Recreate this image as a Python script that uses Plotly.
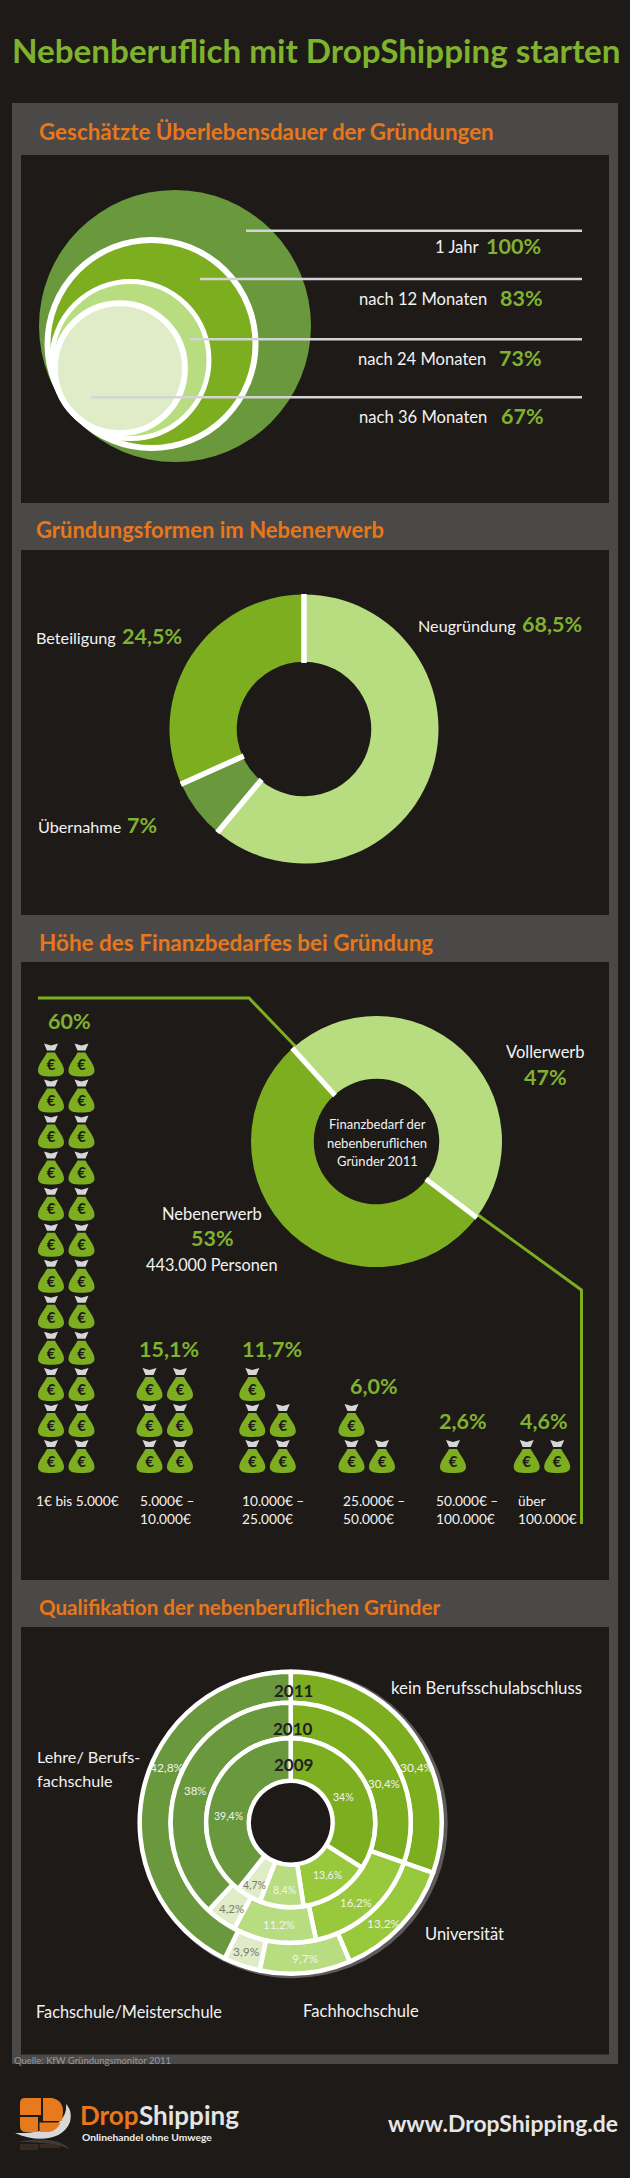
import math
import plotly.graph_objects as go

W, H = 630, 2178
NARROW = "Lato"

BG = "#1e1a18"
PANEL = "#4b4848"
GREEN = "#7cae20"
GREEN_TXT = "#7fb22e"
DARK_GREEN = "#6a983c"
MID_GREEN = "#98c83c"
LIGHT_GREEN = "#b8dd80"
PALE_GREEN = "#e0ecc8"
ORANGE = "#e8771a"
WHITE = "#f2f2f2"

# Geschaetzte Ueberlebensdauer
survival_names = ["1 Jahr", "nach 12 Monaten", "nach 24 Monaten", "nach 36 Monaten"]
survival_values = [100, 83, 73, 67]
# drawn diameters as read from the picture, not proportional to the values
survival_diam = [272, 214, 162, 136]

# Gruendungsformen: the drawn slices differ from the printed numbers
form_names = ["Neugründung", "Übernahme", "Beteiligung"]
form_printed = ["68,5%", "7%", "24,5%"]
form_drawn = [61.1, 7.2, 31.7]

# Finanzbedarf
need_names = ["Vollerwerb", "Nebenerwerb"]
need_values = [47, 53]
need_ranges = [
    ["1€ bis 5.000€"],
    ["5.000€ –", "10.000€"],
    ["10.000€ –", "25.000€"],
    ["25.000€ –", "50.000€"],
    ["50.000€ –", "100.000€"],
    ["über", "100.000€"],
]
need_printed = ["60%", "15,1%", "11,7%", "6,0%", "2,6%", "4,6%"]
need_bags = [24, 6, 5, 3, 1, 2]

# Qualifikation
quali_names = ["kein Berufsschulabschluss", "Universität", "Fachhochschule",
               "Fachschule/Meisterschule", "Lehre/ Berufsfachschule"]
quali_2009 = [34, 13.6, 8.4, 4.7, 39.4]
quali_2010 = [30.4, 16.2, 11.2, 4.2, 38]
quali_2011 = [30.4, 13.2, 9.7, 3.9, 42.8]

fig = go.Figure()
shapes = []
notes = []


def txt(x, base, text, size, color=WHITE, anchor="left", bold=False, family=NARROW):
    # base is the text baseline in page pixels
    notes.append(dict(x=x, y=base + 0.21 * size + 1, xref="x", yref="y", text=text,
                      showarrow=False, xanchor=anchor, yanchor="bottom", borderpad=0, borderwidth=0,
                      font=dict(family=family, size=size, color=color,
                                weight=700 if bold else 400)))


def rect(x0, y0, x1, y1, color):
    shapes.append(dict(type="rect", x0=x0, y0=y0, x1=x1, y1=y1, xref="x", yref="y",
                       fillcolor=color, line_width=0, layer="below"))


def path(d, color):
    shapes.append(dict(type="path", path=d, xref="x", yref="y", fillcolor=color,
                       line_width=0, layer="below"))


def pie(values, colors, cx, cy, r, hole, rotation=0, line=0):
    fig.add_trace(go.Pie(
        values=values, sort=False, direction="clockwise", rotation=rotation, hole=hole,
        domain=dict(x=[(cx - r) / W, (cx + r) / W], y=[1 - (cy + r) / H, 1 - (cy - r) / H]),
        marker=dict(colors=colors, line=dict(color="white", width=line)),
        textinfo="none", showlegend=False, hoverinfo="percent"))


def dividers(values, cx, cy, r0, r1, rotation=0, width=5.5):
    # white spokes at the slice boundaries, outer rim stays clean
    angle = rotation
    for v in values:
        a = math.radians(angle)
        shapes.append(dict(type="line", xref="x", yref="y",
                           x0=cx + r0 * math.sin(a), y0=cy - r0 * math.cos(a),
                           x1=cx + r1 * math.sin(a), y1=cy - r1 * math.cos(a),
                           line=dict(color="white", width=width), layer="above"))
        angle += v / sum(values) * 360


# page furniture
rect(12, 103, 618, 2064, PANEL)
rect(21, 155, 609, 503, BG)
rect(21, 550, 609, 915, BG)
rect(21, 962, 609, 1580, BG)
rect(21, 1627, 609, 2054.5, BG)

txt(12, 62, "Nebenberuflich mit DropShipping starten", 33.2, GREEN_TXT, bold=True)
txt(38.5, 139, "Geschätzte Überlebensdauer der Gründungen", 22.4, ORANGE, bold=True)
txt(36, 537, "Gründungsformen im Nebenerwerb", 22, ORANGE, bold=True)
txt(38.5, 950, "Höhe des Finanzbedarfes bei Gründung", 22.5, ORANGE, bold=True)
txt(38.5, 1614, "Qualifikation der nebenberuflichen Gründer", 20.6, ORANGE, bold=True)
txt(14, 2063, "Quelle: KfW Gründungsmonitor 2011", 9.5, "#9a9a9a")

# 1. nested circles, all touching at the lower left
r_max = survival_diam[0] / 2
fill = [DARK_GREEN, GREEN, LIGHT_GREEN, PALE_GREEN]
ring = [0, 6, 5, 6]
for d, c, lw in zip(survival_diam, fill, ring):
    r = d / 2
    fig.add_trace(go.Scatter(
        x=[175 - 0.81 * (r_max - r)], y=[326 + 0.62 * (r_max - r)], mode="markers",
        marker=dict(size=d - lw, color=c, line=dict(color="white", width=lw)),
        showlegend=False, hoverinfo="skip"))

line_y = [230.7, 279, 339.3, 397.3]
line_x0 = [246, 200, 190, 91]
base_y = [253, 305, 365, 423]
pct_x = [541, 543, 542, 544]
name_x = [479, 487, 486, 487]
for i, name in enumerate(survival_names):
    fig.add_trace(go.Scatter(x=[line_x0[i], 582], y=[line_y[i]] * 2, mode="lines",
                             line=dict(color="#d4d4d4", width=2.5), showlegend=False, hoverinfo="skip"))
    txt(name_x[i], base_y[i], name, 16.6, WHITE, "right")
    txt(pct_x[i], base_y[i], f"{survival_values[i]}%", 21.5, GREEN_TXT, "right", True)

# 2. Gruendungsformen
pie(form_drawn, [LIGHT_GREEN, DARK_GREEN, GREEN], 304, 729, 134.5, 0.5)
dividers(form_drawn, 304, 729, 66, 135)
txt(516, 631, form_names[0], 16.2, anchor="right")
txt(521.5, 631, form_printed[0], 21.5, GREEN_TXT, bold=True)
txt(116, 643, form_names[2], 16.2, anchor="right")
txt(122, 643, form_printed[2], 21.5, GREEN_TXT, bold=True)
txt(120.5, 832, form_names[1], 16.2, anchor="right")
txt(127, 832, form_printed[1], 21.5, GREEN_TXT, bold=True)

# 3. Finanzbedarf, connector lines first so the donut sits on top
conn_x = [38, 249, 296]
conn_y = [998, 998, 1047]
conn2_x = [478, 581.5, 581.5]
conn2_y = [1215, 1290, 1524]
for xs, ys in ((conn_x, conn_y), (conn2_x, conn2_y)):
    fig.add_trace(go.Scatter(x=xs, y=ys, mode="lines", line=dict(color=GREEN, width=3),
                             showlegend=False, hoverinfo="skip"))
pie(need_values, [LIGHT_GREEN, GREEN], 376.5, 1141.6, 125.5, 0.5, rotation=318)
dividers(need_values, 376.5, 1141.6, 62, 126, rotation=318, width=5)
txt(377, 1128, "Finanzbedarf der", 13, anchor="center")
txt(377, 1147, "nebenberuflichen", 13, anchor="center")
txt(377, 1165, "Gründer 2011", 13, anchor="center")
txt(545, 1058, need_names[0], 16.5, anchor="center")
txt(545, 1084, f"{need_values[0]}%", 21.5, GREEN_TXT, "center", True)
txt(212, 1220, need_names[1], 16.5, anchor="center")
txt(212, 1245, f"{need_values[1]}%", 21.5, GREEN_TXT, "center", True)
txt(212, 1269.5, "443.000 Personen", 16.3, anchor="center")

group_x = [51, 149.5, 252.3, 351.5, 453, 526.7]
pct_left = [48, 138.6, 242, 349.5, 438.7, 520]
pct_base = [1028.4, 1356, 1356, 1393.5, 1428, 1428]
range_left = [36, 140, 242, 342.7, 436, 518]
bag_x, bag_y = [], []
for i, n in enumerate(need_bags):
    for k in range(n):
        cx = group_x[i] + 30.5 * (k % 2)
        cy = 1461 - 36.05 * (k // 2)
        bag_x.append(cx)
        bag_y.append(cy)
        path(f"M{cx-4},{cy-12} C{cx-7},{cy-6} {cx-13},{cy} {cx-13},{cy+6} "
             f"C{cx-13},{cy+11} {cx-8},{cy+12} {cx},{cy+12} "
             f"C{cx+8},{cy+12} {cx+13},{cy+11} {cx+13},{cy+6} "
             f"C{cx+13},{cy} {cx+7},{cy-6} {cx+4},{cy-12} Z", GREEN)
        path(f"M{cx-7},{cy-21} L{cx},{cy-19} L{cx+7},{cy-21} L{cx+4},{cy-14} L{cx-4},{cy-14} Z",
             "#d6d6d6")
    txt(pct_left[i], pct_base[i], need_printed[i], 21.5, GREEN_TXT, bold=True)
    for j, part in enumerate(need_ranges[i]):
        txt(range_left[i], 1505 + 18.6 * j, part, 13.7)
fig.add_trace(go.Scatter(x=bag_x, y=[v + 2 for v in bag_y], mode="text", text=["€"] * len(bag_x),
                         textposition="middle center", showlegend=False, hoverinfo="skip",
                         textfont=dict(family=NARROW, size=15, color=BG, weight=700)))

# 4. Qualifikation, three rings around one centre
QX, QY = 290.7, 1822.7
ring_colors = [GREEN, MID_GREEN, LIGHT_GREEN, PALE_GREEN, DARK_GREEN]
# thin grey shadow crescent on the right side
fig.add_trace(go.Scatter(x=[QX + 2.5], y=[QY + 1], mode="markers",
                         marker=dict(size=304, color="rgba(0,0,0,0)", line=dict(color="#5d5b5a", width=5)),
                         showlegend=False, hoverinfo="skip"))
pie(quali_2011, ring_colors, QX, QY, 151, 120 / 151, line=4.5)
pie(quali_2010, ring_colors, QX, QY, 120, 84.5 / 120, line=4.5)
pie(quali_2009, ring_colors, QX, QY, 84.5, 42 / 84.5, line=4.5)

for year, base in (("2011", 1696.7), ("2010", 1734), ("2009", 1770)):
    txt(293, base, year, 17, "#222222", "center", True)

label_x = {"2011": [417, 384, 305, 246, 167], "2010": [384, 356, 279, 231, 195],
           "2009": [343, 327, 284, 254, 228]}
label_y = {"2011": [1767, 1923, 1958, 1951, 1767], "2010": [1782, 1901, 1923, 1907, 1789],
           "2009": [1796, 1874, 1889, 1884, 1815]}
label_size = {"2011": 12, "2010": 11.5, "2009": 10.5}
for yr, vals in (("2011", quali_2011), ("2010", quali_2010), ("2009", quali_2009)):
    for i, v in enumerate(vals):
        s = f"{v:g}".replace(".", ",") + "%"
        col = "#7a7a72" if i == 3 else WHITE
        txt(label_x[yr][i], label_y[yr][i] + label_size[yr] * 0.36, s, label_size[yr], col, "center")

txt(582, 1693, quali_names[0], 16.8, anchor="right")
txt(37, 1762, "Lehre/ Berufs-", 16.2)
txt(37, 1785.5, "fachschule", 16.2)
txt(425, 1940, quali_names[1], 16.5)
txt(36, 2017, quali_names[3], 16.3)
txt(302.5, 2017, quali_names[2], 16.6)

# footer logo: swoosh, four rounded tiles and a faint reflection
path("M15,2133 C35,2142 62,2142 70,2122 C72,2114 70,2108 66,2104 C68,2120 52,2134 15,2133 Z", "#d8d8d8")
logo_tiles = [
    "M25,2098 L41,2098 L41,2115 L20,2115 L20,2103 Q20,2098 25,2098 Z",
    "M43,2098 L52,2098 Q63,2100 63,2112 L62,2121 L43,2121 Z",
    "M20,2117 L38,2117 L38,2132 L26,2132 Q20,2132 20,2126 Z",
    "M39.5,2122.5 L60.5,2122.5 Q58,2130 49,2132 L39.5,2132 Z",
]
for d in logo_tiles:
    path(d, "#e87a1e")
rect(20, 2144, 38, 2150, "#3a2a20")
rect(39.5, 2144, 60, 2148, "#3a2a20")
path("M18,2142 C35,2138 62,2138 70,2150 C62,2144 40,2142 18,2142 Z", "#3c3a39")
txt(138.6, 2125, "Drop", 26, ORANGE, "right", True)
txt(138.6, 2125, "Shipping", 26, "#e4e4e4", bold=True)
txt(82, 2139.5, "Onlinehandel ohne Umwege", 10.3, "#eeeeee", bold=True)
txt(618, 2131, "www.DropShipping.de", 22.9, "#e6e6e6", "right", True)

fig.update_layout(
    width=W, height=H, margin=dict(l=0, r=0, t=0, b=0), paper_bgcolor=BG, plot_bgcolor=BG,
    showlegend=False, shapes=shapes, annotations=notes,
    xaxis=dict(range=[0, W], visible=False, fixedrange=True),
    yaxis=dict(range=[H, 0], visible=False, fixedrange=True),
)
fig.write_html("out.html", config={"displayModeBar": False},
               post_script="document.body.style.margin='0';")
